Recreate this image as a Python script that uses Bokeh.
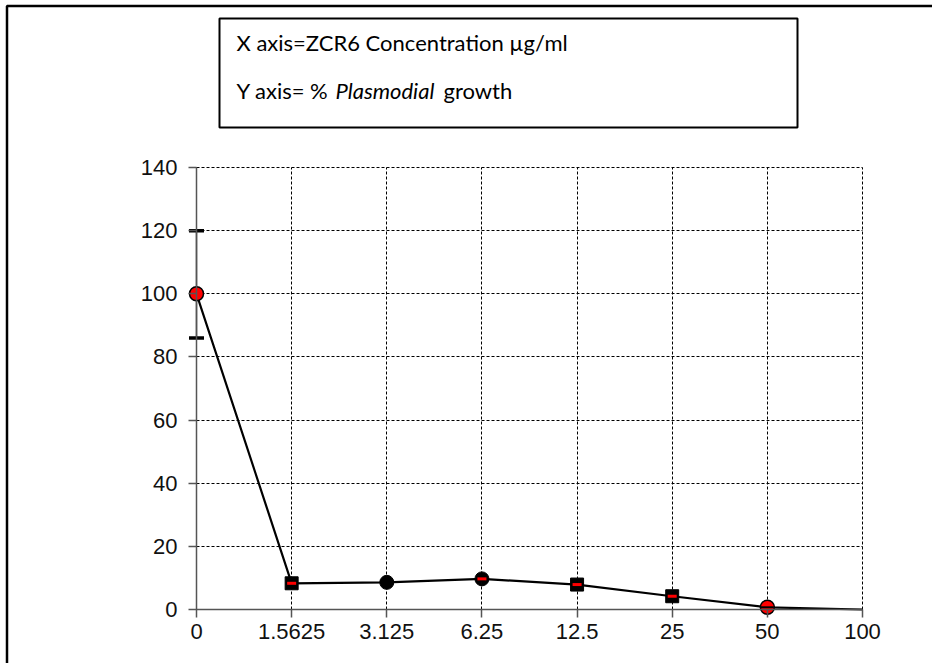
from bokeh.plotting import figure
from bokeh.models import (Range1d, FixedTicker, ColumnDataSource, Whisker, TeeHead,
                          BoxAnnotation, Label)
from bokeh.embed import file_html
from bokeh.resources import INLINE

# ---- data ----
conc_labels = ["0", "1.5625", "3.125", "6.25", "12.5", "25", "50", "100"]
growth = [100.0, 8.3, 8.6, 9.7, 7.9, 4.2, 0.7, 0.0]
err_upper = [120.0]
err_lower = [86.0]
y_ticks = [0, 20, 40, 60, 80, 100, 120, 140]
box_line1 = "X axis=ZCR6 Concentration µg/ml"
box_line2_parts = ["Y axis= %", "Plasmodial", "growth"]

xpos = list(range(len(conc_labels)))

# ---- layout (canvas = frame, page pixel geometry) ----
W, H = 932, 663
PX_X0, PX_X7 = 196.0, 862.0      # pixel of first / last category
PX_Y0, PX_Y140 = 609.0, 167.0    # pixel of 0 / 140
SX = (PX_X7 - PX_X0) / (len(xpos) - 1)
SY = (PX_Y0 - PX_Y140) / y_ticks[-1]
x_start = -PX_X0 / SX
x_end = x_start + W / SX
y_end = y_ticks[-1] + PX_Y140 / SY
y_start = y_end - H / SY

def dx(px):
    return x_start + px / SX

def dy(py):
    return y_end - py / SY

p = figure(width=W, height=H, output_backend="svg", toolbar_location=None,
           x_range=Range1d(x_start, x_end), y_range=Range1d(y_start, y_end),
           min_border=0, min_border_left=0, min_border_right=0,
           min_border_top=0, min_border_bottom=0)
p.outline_line_color = None
p.background_fill_color = "white"
p.border_fill_color = "white"

AX = "#555555"
FONT = "Liberation Sans"
for ax in (p.xaxis, p.yaxis):
    ax.axis_line_color = AX
    ax.axis_line_width = 1.5
    ax.major_tick_line_color = AX
    ax.major_tick_line_width = 1.5
    ax.major_tick_out = 8
    ax.major_tick_in = 0
    ax.minor_tick_line_color = None
    ax.major_label_text_font = FONT
    ax.major_label_text_font_size = "22px"
    ax.major_label_text_color = "#111111"

p.xaxis.ticker = FixedTicker(ticks=xpos)
p.xaxis.major_label_overrides = {i: s for i, s in enumerate(conc_labels)}
p.xaxis.fixed_location = 0
p.xaxis.bounds = (xpos[0], xpos[-1])
p.xaxis.major_label_standoff = 6

p.yaxis.ticker = FixedTicker(ticks=y_ticks)
p.yaxis.fixed_location = 0
p.yaxis.bounds = (y_ticks[0], y_ticks[-1])
p.yaxis.major_label_standoff = 11

# dashed grid limited to the plot area
grid_ok = True
try:
    p.xgrid.cross_bounds = (y_ticks[0], y_ticks[-1])
    p.ygrid.cross_bounds = (xpos[0], xpos[-1])
except Exception:
    grid_ok = False
if grid_ok:
    for g in (p.xgrid, p.ygrid):
        g.grid_line_color = "black"
        g.grid_line_width = 1
        g.grid_line_dash = "3 2"
else:
    p.xgrid.visible = False
    p.ygrid.visible = False
    gx = [t for t in xpos[1:]]
    p.segment(x0=gx, y0=[y_ticks[0]] * len(gx), x1=gx, y1=[y_ticks[-1]] * len(gx),
              line_color="black", line_width=1, line_dash="3 2")
    gy = [t for t in y_ticks[1:]]
    p.segment(x0=[xpos[0]] * len(gy), y0=gy, x1=[xpos[-1]] * len(gy), y1=gy,
              line_color="black", line_width=1, line_dash="3 2")

src = ColumnDataSource(dict(x=xpos, y=growth))
p.line("x", "y", source=src, line_color="black", line_width=2.2)

# error bar at first point
esrc = ColumnDataSource(dict(base=[xpos[0]], upper=err_upper, lower=err_lower))
p.add_layout(Whisker(source=esrc, base="base", upper="upper", lower="lower",
                     line_color=AX, line_width=1.5,
                     upper_head=TeeHead(size=15, line_width=3.5, line_color="black"),
                     lower_head=TeeHead(size=15, line_width=3.5, line_color="black")))

# marker styles per point index (style only)
red_circles = [0, 6]
black_squares = [1, 4, 5]
black_circles = [2, 3]

def sub(idx):
    return ColumnDataSource(dict(x=[xpos[i] for i in idx], y=[growth[i] for i in idx]))

p.scatter("x", "y", source=sub(black_squares), marker="square", size=13,
          fill_color="black", line_color="black", line_width=1)
p.scatter("x", "y", source=sub(black_circles), marker="circle", size=14,
          fill_color="black", line_color="black", line_width=1)
p.scatter("x", "y", source=sub(red_circles), marker="circle", size=14,
          fill_color="red", line_color="black", line_width=1.5)
p.scatter("x", "y", source=sub([1, 3, 4, 5]), marker="dash", size=9,
          line_color="red", line_width=3)
p.scatter("x", "y", source=sub([6]), marker="dash", size=13,
          line_color="black", line_width=2)

# outer frame
p.add_layout(BoxAnnotation(left=dx(6.5), right=dx(W + 20), top=dy(5.5), bottom=dy(H + 20),
                           fill_alpha=0, line_color="black", line_alpha=1, line_width=2.5))
# text box
p.add_layout(BoxAnnotation(left=dx(219), right=dx(797), top=dy(18), bottom=dy(127),
                           fill_color="white", fill_alpha=1, line_color="black",
                           line_alpha=1, line_width=2))

TF = "Lato"
TS = "22px"
p.add_layout(Label(x=dx(236), y=dy(42), text=box_line1, text_font=TF, text_font_size=TS,
                   text_baseline="middle", text_color="black"))
for part, px, style in zip(box_line2_parts, [236, 335, 443], ["normal", "italic", "normal"]):
    p.add_layout(Label(x=dx(px), y=dy(90), text=part, text_font=TF, text_font_size=TS,
                       text_font_style=style, text_baseline="middle", text_color="black"))

open("out.html", "w").write(file_html(p, INLINE))
